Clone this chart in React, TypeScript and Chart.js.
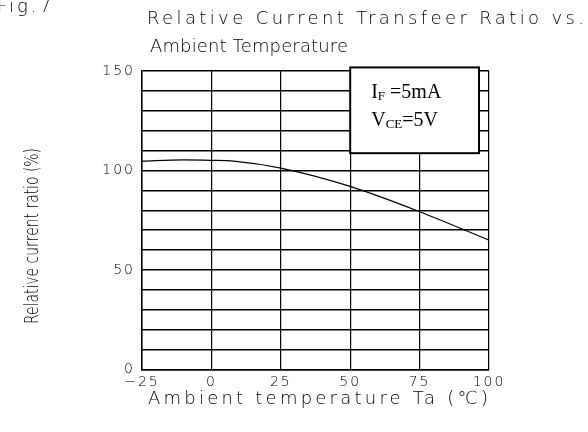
import { useEffect, useRef } from "react";
import { Chart, registerables } from "chart.js";

Chart.register(...registerables);

// ---- data ----
const temperatures = [-25, -10, 0, 8, 25, 50, 75, 100];
const ratios = [104.7, 105.3, 105.1, 104.7, 101.2, 92, 79.3, 65];
const yLabelValues = [0, 50, 100, 150];
const titleLines = ["Relative Current Transfeer Ratio vs.", "Ambient Temperature"];
const xTitle = "Ambient temperature Ta (\u2103)";
const yTitle = "Relative current ratio (%)";
const figLabel = "Fig.7";
const noteLines: string[][] = [
  ["I", "F", " =5mA"],
  ["V", "CE", "=5V"],
];
const noteBoxX = [50, 96.4];
const noteBoxY = [108.7, 151.8];

const THIN = "200 18px 'DejaVu Sans'";

function drawSpaced(ctx: CanvasRenderingContext2D, text: string, x: number, y: number, target: number, font: string) {
  ctx.font = font;
  (ctx as any).letterSpacing = "0px";
  const w = ctx.measureText(text).width;
  const sp = (target - w) / Math.max(1, text.length - 1);
  if (sp >= 0) {
    (ctx as any).letterSpacing = sp + "px";
    ctx.fillText(text, x, y);
  } else {
    ctx.save();
    ctx.translate(x, y);
    ctx.scale(target / w, 1);
    ctx.fillText(text, 0, 0);
    ctx.restore();
  }
  (ctx as any).letterSpacing = "0px";
}

const textPlugin = {
  id: "texts",
  beforeDraw(chart: any) {
    (chart.ctx as any).letterSpacing = "2px";
  },
  afterDraw(chart: any) {
    const ctx: CanvasRenderingContext2D = chart.ctx;
    const xs = chart.scales.x;
    const ys = chart.scales.y;
    ctx.save();
    (ctx as any).letterSpacing = "0px";
    // note box
    const bx0 = xs.getPixelForValue(noteBoxX[0]);
    const bx1 = xs.getPixelForValue(noteBoxX[1]);
    const by0 = ys.getPixelForValue(noteBoxY[1]);
    const by1 = ys.getPixelForValue(noteBoxY[0]);
    ctx.fillStyle = "#fff";
    ctx.fillRect(bx0, by0, bx1 - bx0, by1 - by0);
    ctx.lineWidth = 2;
    ctx.strokeStyle = "#000";
    ctx.strokeRect(bx0, by0, bx1 - bx0, by1 - by0);
    ctx.fillStyle = "#000";
    ctx.textAlign = "left";
    ctx.textBaseline = "alphabetic";
    noteLines.forEach((parts, i) => {
      let x = bx0 + 21;
      const base = by0 + 31 + i * 28;
      ctx.font = "20px 'Liberation Serif'";
      ctx.fillText(parts[0], x, base);
      x += ctx.measureText(parts[0]).width;
      ctx.font = "13px 'Liberation Serif'";
      ctx.fillText(parts[1], x, base + 2);
      x += ctx.measureText(parts[1]).width;
      ctx.font = "20px 'Liberation Serif'";
      ctx.fillText(parts[2], x, base);
    });
    // titles
    drawSpaced(ctx, titleLines[0], 147, 24, 437, THIN);
    drawSpaced(ctx, titleLines[1], 150, 52, 198, THIN);
    drawSpaced(ctx, xTitle, 148, 404, 340, THIN);
    // fig label, partly cut at left edge
    ctx.font = THIN;
    (ctx as any).letterSpacing = "3px";
    ctx.fillText(figLabel, -3, 12);
    (ctx as any).letterSpacing = "0px";
    // y title (tall, narrow glyphs)
    ctx.translate(33, 236);
    ctx.rotate(-Math.PI / 2);
    ctx.textAlign = "center";
    ctx.textBaseline = "middle";
    ctx.font = "200 19px 'DejaVu Sans'";
    const w = ctx.measureText(yTitle).width;
    ctx.scale(176 / w, 1);
    ctx.fillText(yTitle, 0, 0);
    ctx.restore();
  },
};

export default function App() {
  const ref = useRef<HTMLCanvasElement | null>(null);
  useEffect(() => {
    if (!ref.current) return;
    const chart = new Chart(ref.current, {
      type: "line",
      data: {
        datasets: [
          {
            data: temperatures.map((t, i) => ({ x: t, y: ratios[i] })),
            borderColor: "#000",
            borderWidth: 1.2,
            pointRadius: 0,
            cubicInterpolationMode: "monotone",
            fill: false,
          },
        ],
      },
      options: {
        animation: false,
        responsive: false,
        devicePixelRatio: 1,
        layout: { padding: { top: 71, right: 99, left: 0, bottom: 0 } },
        plugins: { legend: { display: false }, title: { display: false }, tooltip: { enabled: false } },
        scales: {
          x: {
            type: "linear",
            min: -25,
            max: 100,
            afterFit: (s: any) => {
              s.height = 62.5;
            },
            ticks: {
              stepSize: 25,
              color: "#000",
              padding: 4,
              font: { family: "'DejaVu Sans'", size: 14, weight: 200 as any },
              callback: (v: any) => (v < 0 ? "\u2212" + Math.abs(v) : String(v)),
            },
            grid: { color: "#000", lineWidth: 1.2, drawTicks: false },
            border: { color: "#000", width: 1.5 },
          },
          y: {
            min: 0,
            max: 150,
            afterFit: (s: any) => {
              s.width = 142;
            },
            ticks: {
              stepSize: 10,
              autoSkip: false,
              color: "#000",
              padding: 7,
              font: { family: "'DejaVu Sans'", size: 14, weight: 200 as any },
              callback: (v: any) => (yLabelValues.includes(v) ? String(v) : ""),
            },
            grid: { color: "#000", lineWidth: 1.5, drawTicks: false },
            border: { color: "#000", width: 1.5 },
          },
        },
      },
      plugins: [textPlugin],
    } as any);
    return () => chart.destroy();
  }, []);
  return (
    <div style={{ position: "fixed", left: 0, top: 0, width: 588, height: 432, background: "#fff" }}>
      <canvas ref={ref} width={588} height={432} style={{ display: "block" }} />
    </div>
  );
}
